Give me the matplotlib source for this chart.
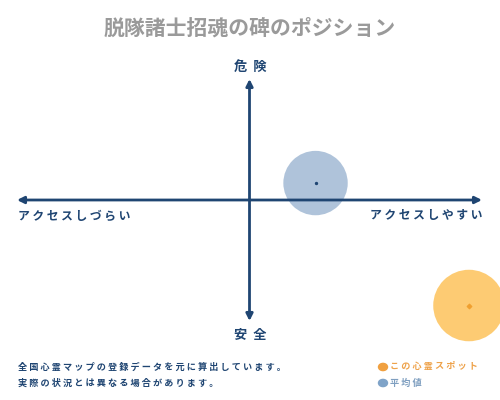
import matplotlib
matplotlib.use("Agg")
import matplotlib.pyplot as plt

plt.rcParams['font.family'] = ['Noto Sans CJK JP', 'DejaVu Sans']

title = "脱隊諸士招魂の碑のポジション"
axis_top = "危  険"
axis_bottom = "安  全"
axis_left = "ア ク セ ス し づ ら い"
axis_right = "ア ク セ ス し や す い"
notes = ["全 国 心 霊 マ ッ プ の 登 録 デ ー タ を 元 に 算 出 し て い ま す 。",
         "実 際 の 状 況 と は 異 な る 場 合 が あ り ま す 。"]
legend_labels = ["こ の 心 霊 ス ポ ッ ト", "平 均 値"]

# positions: x = access (-100 hard .. 100 easy), y = danger (-100 safe .. 100 dangerous)
spot_x, spot_y = [94.4], [-87.2]
avg_x, avg_y = [28.4], [14.0]

navy = "#1f4572"
blue_fill = "#a7bdd6"
orange_fill = "#fdc96b"
orange_dot = "#f0a030"

W, H = 500, 400
fig = plt.figure(figsize=(5, 4), dpi=100)
fig.patch.set_facecolor("white")

def fx(px):
    return px / W

def fy(py):
    return 1 - py / H

ax = fig.add_axes([fx(17), fy(321), (482 - 17) / W, (321 - 79) / H])
ax.set_xlim(-100, 100)
ax.set_ylim(-100, 100)
ax.axis("off")

arrow_kw = dict(arrowstyle="-|>,head_length=0.4,head_width=0.2", color=navy, lw=2.0,
                shrinkA=0, shrinkB=0)
for tip in [(100, 0), (-100, 0), (0, 100), (0, -100)]:
    a = ax.annotate("", xy=tip, xytext=(0, 0), arrowprops=arrow_kw)
    a.set_zorder(5)

ax.scatter(avg_x, avg_y, s=2150, color=blue_fill, alpha=0.9, edgecolors="none", zorder=1, clip_on=False)
ax.scatter(avg_x, avg_y, s=2, color=navy, zorder=6, clip_on=False)
ax.scatter(spot_x, spot_y, s=2650, color=orange_fill, alpha=0.95, edgecolors="none", zorder=1, clip_on=False)
ax.scatter(spot_x, spot_y, s=5, color=orange_dot, marker="D", zorder=6, clip_on=False)

fig.text(fx(250), fy(28), title, ha="center", va="center", fontsize=15,
         fontweight="bold", color="#9a9a9a")
fig.text(fx(250), fy(67), axis_top, ha="center", va="center", fontsize=9.5,
         fontweight="bold", color=navy)
fig.text(fx(250), fy(335), axis_bottom, ha="center", va="center", fontsize=9.5,
         fontweight="bold", color=navy)
fig.text(fx(18), fy(216), axis_left, ha="left", va="center", fontsize=8.5,
         fontweight="bold", color=navy)
fig.text(fx(482), fy(216), axis_right, ha="right", va="center", fontsize=8.5,
         fontweight="bold", color=navy)

fig.text(fx(18), fy(367), notes[0], ha="left", va="center", fontsize=6.6,
         fontweight="bold", color=navy)
fig.text(fx(18), fy(383), notes[1], ha="left", va="center", fontsize=6.6,
         fontweight="bold", color=navy)

fig.patches.append(plt.Circle((fx(383), fy(367)), 4.5 / W, transform=fig.transFigure,
                              color="#f0a040", figure=fig))
fig.patches.append(plt.Circle((fx(383), fy(383)), 4.5 / W, transform=fig.transFigure,
                              color="#7fa3c8", figure=fig))
fig.text(fx(390), fy(367), legend_labels[0], ha="left", va="center", fontsize=6.6,
         fontweight="bold", color="#eea24a")
fig.text(fx(390), fy(383), legend_labels[1], ha="left", va="center", fontsize=6.6,
         fontweight="bold", color="#7f9fc0")

fig.savefig("out.png", dpi=100, facecolor="white")
